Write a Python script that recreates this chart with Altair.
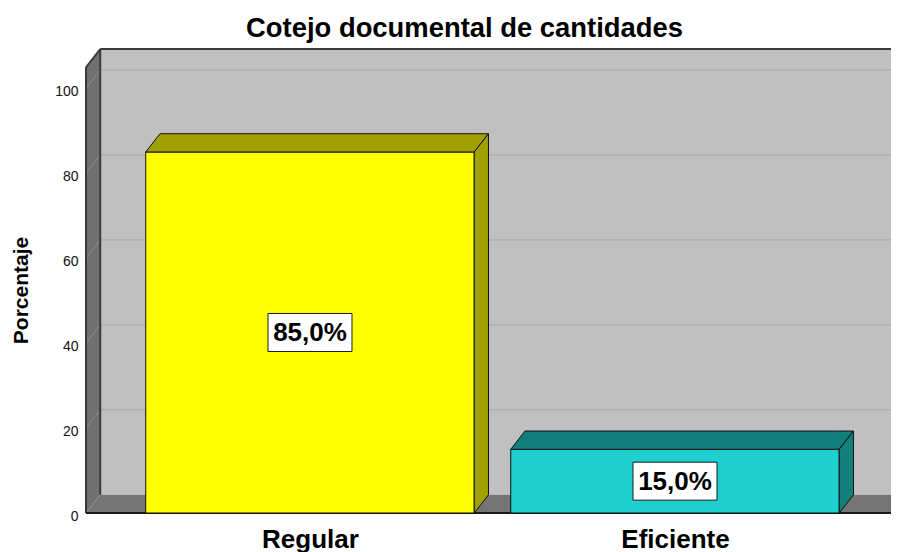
import json
import altair as alt
import pandas as pd

# ---------------- data ----------------
categories = ["Regular", "Eficiente"]
percentages = [85.0, 15.0]
label_texts = ["85,0%", "15,0%"]
front_colors = ["#ffff00", "#1fcfcf"]
side_colors = ["#a0a000", "#137f7c"]
y_ticks = [0, 20, 40, 60, 80, 100]
grid_values = [20, 40, 60, 80, 100]
chart_title = "Cotejo documental de cantidades"
y_title = "Porcentaje"

# ---------------- geometry (scale units) ----------------
X_MIN, X_MAX = -0.6137, 1.5918
BAR_W = 0.9
DX = 0.039          # depth offset, x units
DY = 4.3            # depth offset, y units
WALL_TOP = 104.95   # front top of left wall
Y_MAX = WALL_TOP + DY

FONT = "Liberation Sans"

xs = alt.Scale(domain=[X_MIN, X_MAX], nice=False, zero=False)
ys = alt.Scale(domain=[0, Y_MAX], nice=False, zero=False)

label_expr = "%s[datum.value]" % json.dumps(categories)

X_AXIS = alt.Axis(
    values=list(range(len(categories))), labelExpr=label_expr, title=None,
    domain=False, ticks=False, grid=False, labelFont=FONT, labelFontSize=26,
    labelFontWeight="bold", labelColor="black", labelPadding=13)
Y_AXIS = alt.Axis(
    values=y_ticks, title=y_title, domain=False, ticks=False, grid=False,
    labelFont=FONT, labelFontSize=14, labelColor="#111111", labelPadding=8,
    labelOffset=3, titleFont=FONT, titleFontSize=21, titleFontWeight="bold",
    titleColor="black", titleX=-59, titleY=241, titleBaseline="alphabetic",
    titleAngle=270, titleAlign="center")


def X(field):
    return alt.X(field, scale=xs, axis=X_AXIS, title=None)


def Y(field):
    return alt.Y(field, scale=ys, axis=Y_AXIS, title=y_title)


# bars table
bars = pd.DataFrame({
    "cat": categories,
    "pos": list(range(len(categories))),
    "value": percentages,
    "label": label_texts,
})
bars["x0"] = bars["pos"] - BAR_W / 2
bars["x1"] = bars["pos"] + BAR_W / 2
bars["mid"] = bars["value"] / 2

top_rows = []
side_rows = []
for _, r in bars.iterrows():
    v = r["value"]
    top_rows += [
        {"face": r["cat"], "x": r["x0"], "y": v, "y2": v},
        {"face": r["cat"], "x": r["x0"] + DX, "y": v, "y2": v + DY},
        {"face": r["cat"], "x": r["x1"], "y": v, "y2": v + DY},
        {"face": r["cat"], "x": r["x1"] + DX, "y": v + DY, "y2": v + DY},
    ]
    side_rows += [
        {"face": r["cat"], "x": r["x1"], "y": 0.0, "y2": v},
        {"face": r["cat"], "x": r["x1"] + DX, "y": DY, "y2": v + DY},
    ]
tops = pd.DataFrame(top_rows)
sides = pd.DataFrame(side_rows)

back_wall = pd.DataFrame([{"x": X_MIN + DX, "x2": X_MAX, "y": DY, "y2": Y_MAX}])
left_wall = pd.DataFrame([
    {"x": X_MIN, "y": 0.0, "y2": WALL_TOP},
    {"x": X_MIN + DX, "y": DY, "y2": Y_MAX},
])
floor = pd.DataFrame([
    {"x": X_MIN, "y": 0.0, "y2": 0.0},
    {"x": X_MIN + DX, "y": 0.0, "y2": DY},
    {"x": X_MAX, "y": 0.0, "y2": DY},
])
back_grid = pd.DataFrame({"y": [g + DY for g in grid_values]})
back_grid["x"] = X_MIN + DX
back_grid["x2"] = X_MAX
side_grid = pd.DataFrame({"y": grid_values, "y2": [g + DY for g in grid_values]})
side_grid["x"] = X_MIN
side_grid["x2"] = X_MIN + DX

dark_edges = pd.DataFrame([
    {"x": X_MIN + DX, "x2": X_MAX, "y": Y_MAX, "y2": Y_MAX},
    {"x": X_MIN, "x2": X_MIN + DX, "y": WALL_TOP, "y2": Y_MAX},
    {"x": X_MIN, "x2": X_MIN, "y": 0.0, "y2": WALL_TOP},
    {"x": X_MIN + DX, "x2": X_MIN + DX, "y": DY, "y2": Y_MAX},
])
floor_edge = pd.DataFrame([{"x": X_MIN, "x2": X_MAX, "y": 0.0, "y2": 0.0}])
floor_diag = pd.DataFrame([{"x": X_MIN, "x2": X_MIN + DX, "y": 0.0, "y2": DY}])

# ---------------- layers ----------------
wall_layer = alt.Chart(back_wall).mark_rect(color="#c0c0c0").encode(
    x=X("x:Q"), x2="x2:Q", y=Y("y:Q"), y2="y2:Q")

grid_layer = alt.Chart(back_grid).mark_rule(color="#a8a8a8", strokeWidth=1).encode(
    x=X("x:Q"), x2="x2:Q", y=Y("y:Q"))

left_layer = alt.Chart(left_wall).mark_area(color="#707070").encode(
    x=X("x:Q"), y=Y("y:Q"), y2="y2:Q")

side_grid_layer = alt.Chart(side_grid).mark_rule(color="#8e8e8e", strokeWidth=1).encode(
    x=X("x:Q"), x2="x2:Q", y=Y("y:Q"), y2="y2:Q")

floor_layer = alt.Chart(floor).mark_area(color="#747474").encode(
    x=X("x:Q"), y=Y("y:Q"), y2="y2:Q")

diag_layer = alt.Chart(floor_diag).mark_rule(color="#8e8e8e", strokeWidth=1).encode(
    x=X("x:Q"), x2="x2:Q", y=Y("y:Q"), y2="y2:Q")

edge_layer = alt.Chart(dark_edges).mark_rule(color="#3a3a3a", strokeWidth=2).encode(
    x=X("x:Q"), x2="x2:Q", y=Y("y:Q"), y2="y2:Q")

floor_edge_layer = alt.Chart(floor_edge).mark_rule(color="#1a1a1a", strokeWidth=2).encode(
    x=X("x:Q"), x2="x2:Q", y=Y("y:Q"))

front_layer = alt.Chart(bars).mark_rect(stroke="#111111", strokeWidth=1).encode(
    x=X("x0:Q"), x2="x1:Q", y=Y("value:Q"), y2=alt.datum(0),
    fill=alt.Fill("cat:N", scale=alt.Scale(domain=categories, range=front_colors), legend=None),
)

shade_scale = alt.Scale(domain=categories, range=side_colors)

top_layer = alt.Chart(tops).mark_area(stroke="#111111", strokeWidth=1).encode(
    x=X("x:Q"), y=Y("y:Q"), y2="y2:Q",
    stroke=alt.Stroke("face:N", scale=alt.Scale(domain=categories, range=["#111111", "#111111"]), legend=None),
    fill=alt.Fill("face:N", scale=shade_scale, legend=None),
    detail="face:N",
)

side_layer = alt.Chart(sides).mark_area(stroke="#111111", strokeWidth=1).encode(
    x=X("x:Q"), y=Y("y:Q"), y2="y2:Q",
    fill=alt.Fill("face:N", scale=shade_scale, legend=None),
    detail="face:N",
)

box_layer = alt.Chart(bars).mark_point(
    shape="M-1,-0.4524L1,-0.4524L1,0.4524L-1,0.4524Z", size=7056, filled=True,
    fill="white", stroke="#1a1a1a", strokeWidth=1, opacity=1,
).encode(x=X("pos:Q"), y=Y("mid:Q"))

text_layer = alt.Chart(bars).mark_text(
    font=FONT, fontSize=26, fontWeight="bold", color="black",
    align="center", baseline="middle", dy=1,
).encode(x=X("pos:Q"), y=Y("mid:Q"), text="label:N")

bar_faces = alt.layer(top_layer, side_layer).resolve_scale(fill="shared")

chart = alt.layer(
    wall_layer, grid_layer, left_layer, side_grid_layer, floor_layer, diag_layer,
    edge_layer, floor_edge_layer, front_layer, bar_faces,
    box_layer, text_layer,
).resolve_scale(fill="independent", stroke="independent").properties(
    width=805, height=464,
    padding={"left": 78, "top": 41, "right": 0, "bottom": 39},
    autosize=alt.AutoSizeParams(type="none"),
    title=alt.TitleParams(
        text=chart_title, font=FONT, fontSize=27.4, fontWeight="bold",
        color="black", anchor="middle", frame="group", offset=11,
        baseline="alphabetic", dx=-24, dy=27,
    ),
    background="white",
).configure_view(stroke=None)

chart.save("out.html", embed_options={"renderer": "svg", "actions": False})
